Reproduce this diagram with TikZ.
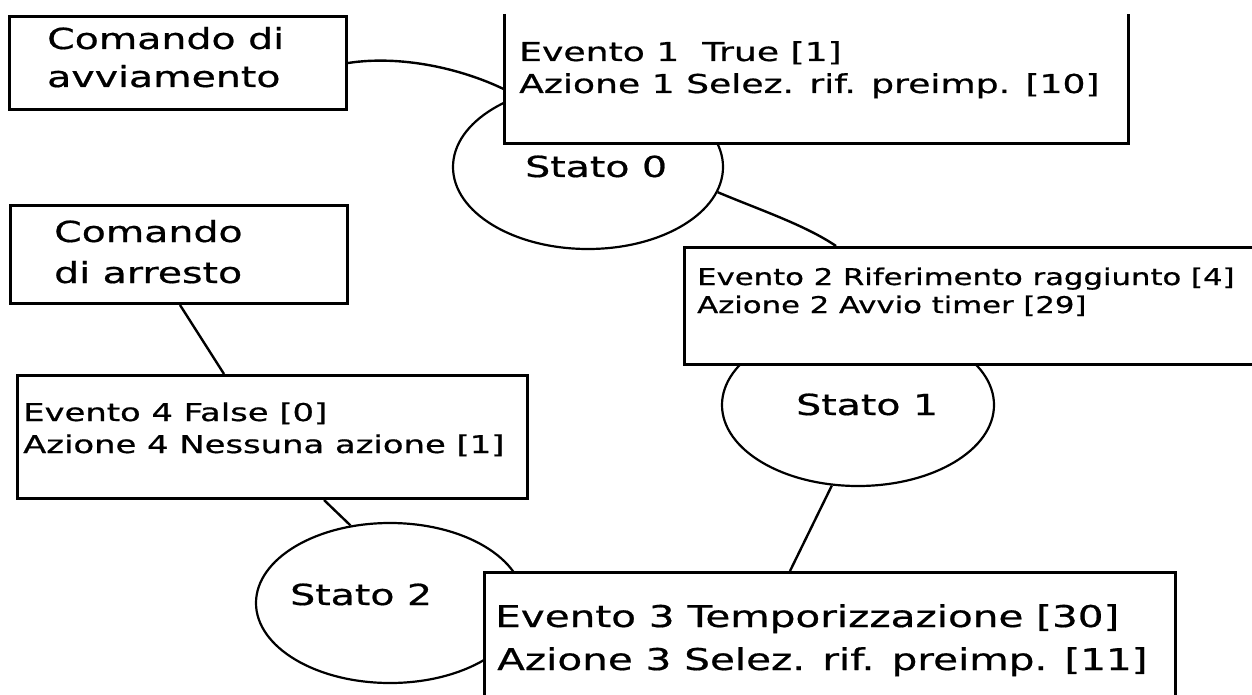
\documentclass[tikz,border=0pt]{standalone}
\usepackage{fontspec}
\setmainfont[FakeBold=0.6]{DejaVu Sans}
\usepackage{graphicx}
\usetikzlibrary{shapes.geometric}
\newcommand{\wtxt}[3]{\scalebox{#2}[1]{\fontsize{#1}{#1}\selectfont #3}}
\begin{document}
\begin{tikzpicture}[x=1pt,y=-1pt,
  boxshape/.style={draw, line width=3pt, fill=white, inner sep=0pt, anchor=north west},
  openbox/.style={fill=white, inner sep=0pt, anchor=north west},
  statenode/.style={draw, ellipse, line width=2.2pt, inner sep=0pt},
  link/.style={line width=2.4pt},
  lbl/.style={inner sep=0pt, anchor=base west}]
\useasboundingbox (0,0) rectangle (1252,695);
\clip (0,0) rectangle (1252,695);

% states
\node[statenode, minimum width=270pt, minimum height=164pt] (s0) at (588,167) {};
\node[statenode, minimum width=272pt, minimum height=162pt] (s1) at (858,405) {};
\node[statenode, minimum width=268pt, minimum height=160pt] (s2) at (390,603) {};

% boxes
\node[boxshape, minimum width=337pt, minimum height=93pt] (cmd1) at (8,15) {};
\node[boxshape, minimum width=337pt, minimum height=98pt] (cmd2) at (9,204) {};
\node[boxshape, minimum width=510pt, minimum height=123pt] (b4) at (16,374) {};

% connectors
\draw[link] ([xshift=171pt]cmd2.south west) -- ([xshift=208pt]b4.north west);
\draw[link] ([xshift=308pt]b4.south west) -- (s2.117);

% boxes covering the states
\node[openbox, minimum width=624pt, minimum height=129pt] (b1) at (504,14) {};
\node[boxshape, minimum width=600pt, minimum height=117pt] (b2) at (683,246) {};
\node[boxshape, minimum width=691pt, minimum height=150pt] (b3) at (483,571) {};

% connectors ending on box borders
\draw[link] (s0.-11) .. controls (760,210) and (805,225) .. ([xshift=153pt]b2.north west);
\draw[link] (s1.-108) -- ([xshift=307pt]b3.north west);
\draw[link] (cmd1.east) .. controls (400,55) and (460,68) .. ([yshift=-10.5pt]b1.west);
\draw[line width=3pt] (b1.north west) -- (b1.south west) -- (b1.south east) -- (b1.north east);

% texts
\node[lbl] (tc1a) at (47,49) {\wtxt{29}{1.36}{Comando di}};
\node[lbl] (tc1b) at (47,87) {\wtxt{29}{1.36}{avviamento}};
\node[lbl] (tc2a) at (54,242) {\wtxt{29}{1.36}{Comando}};
\node[lbl] (tc2b) at (54,283) {\wtxt{29}{1.36}{di arresto}};
\node[lbl] (tb1a) at (519,61) {\wtxt{26}{1.39}{Evento 1~ True [1]}};
\node[lbl] (tb1b) at (519,93) {\wtxt{26}{1.39}{Azione 1 Selez. rif. preimp. [10]}};
\node[lbl] (tb2a) at (697,285) {\wtxt{23}{1.335}{Evento 2 Riferimento raggiunto [4]}};
\node[lbl] (tb2b) at (697,313) {\wtxt{23}{1.335}{Azione 2 Avvio timer [29]}};
\node[lbl] (tb4a) at (23,421) {\wtxt{24.5}{1.38}{Evento 4 False [0]}};
\node[lbl] (tb4b) at (23,453) {\wtxt{24.5}{1.38}{Azione 4 Nessuna azione [1]}};
\node[lbl] (tb3a) at (495,627) {\wtxt{30}{1.35}{Evento 3 Temporizzazione [30]}};
\node[lbl] (tb3b) at (497,670) {\wtxt{30}{1.35}{Azione 3 Selez. rif. preimp. [11]}};
\node[lbl] (ts0) at (525,177) {\wtxt{29}{1.36}{Stato 0}};
\node[lbl] (ts1) at (796,415) {\wtxt{29}{1.36}{Stato 1}};
\node[lbl] (ts2) at (290,605) {\wtxt{29}{1.36}{Stato 2}};
\end{tikzpicture}
\end{document}
